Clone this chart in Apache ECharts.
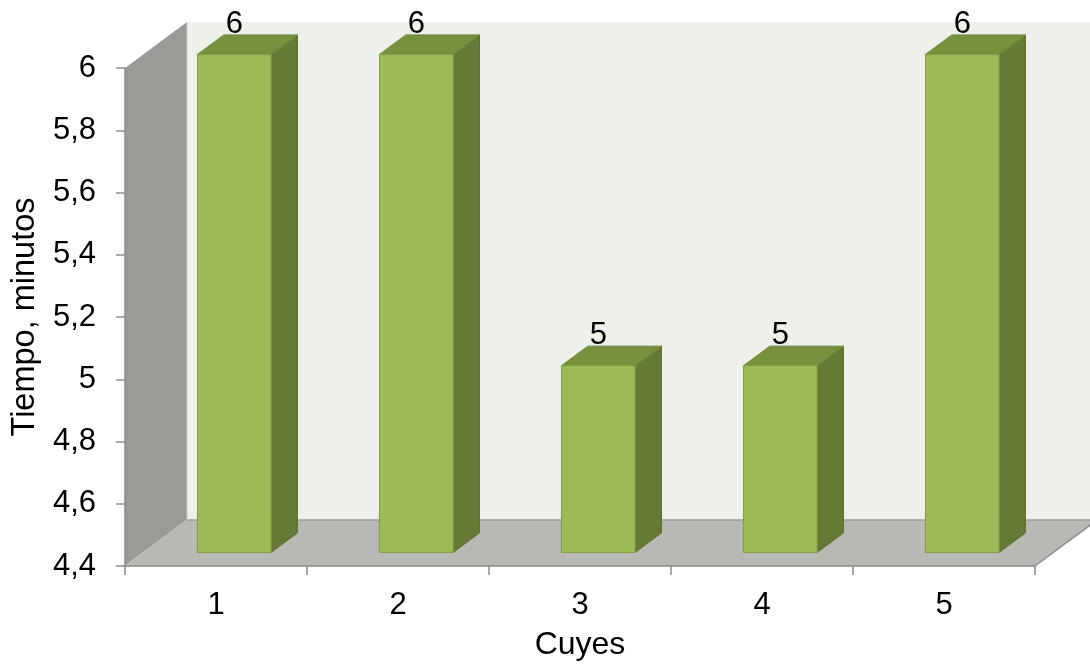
<!DOCTYPE html>
<html>
<head>
<meta charset="utf-8">
<script src="https://cdn.jsdelivr.net/npm/echarts@6/dist/echarts.min.js"></script>
<style>
  html, body { margin: 0; padding: 0; background: #ffffff; }
  #chart { width: 1090px; height: 669px; }
</style>
</head>
<body>
<div id="chart"></div>
<script>
// Chart data
const categories = ['1', '2', '3', '4', '5'];
const tiempo = [6, 6, 5, 5, 6];
const yMin = 4.4;
const yMax = 6;
const yStep = 0.2;

// Pseudo-3D depth of the plot box (pixels) and the bar's slab inside it
const DEPTH_X = 62;
const DEPTH_Y = -46;
const BAR_FRONT = 0.295;
const BAR_BACK = 0.72;
const BAR_WIDTH_RATIO = 0.405;

const FONT = '"Liberation Sans", Arial, sans-serif';

const chart = echarts.init(document.getElementById('chart'), null, { renderer: 'canvas' });

function fmt(v) {
  return String(+(+v).toFixed(1)).replace('.', ',');
}

// Walls and floor of the 3D box
function renderWalls(params, api) {
  const cs = params.coordSys;
  const x0 = cs.x, x1 = cs.x + cs.width;
  const yT = cs.y, yB = cs.y + cs.height;
  const dx = DEPTH_X, dy = DEPTH_Y;
  return {
    type: 'group',
    children: [
      { // back wall
        type: 'polygon',
        shape: { points: [[x0 + dx, yT + dy], [x1 + dx, yT + dy], [x1 + dx, yB + dy], [x0 + dx, yB + dy]] },
        style: { fill: '#eef1ea' }
      },
      { // left side wall
        type: 'polygon',
        shape: { points: [[x0, yT], [x0 + dx, yT + dy], [x0 + dx, yB + dy], [x0, yB]] },
        style: { fill: '#999b96' }
      },
      { // floor
        type: 'polygon',
        shape: { points: [[x0, yB], [x1, yB], [x1 + dx, yB + dy], [x0 + dx, yB + dy]] },
        style: { fill: '#b7b9b3' }
      },
      { // back edge of floor
        type: 'line',
        shape: { x1: x0 + dx, y1: yB + dy, x2: x1 + dx, y2: yB + dy },
        style: { stroke: '#9a9a9a', lineWidth: 1.5 }
      },
      { // right edge of floor
        type: 'line',
        shape: { x1: x1, y1: yB, x2: x1 + dx, y2: yB + dy },
        style: { stroke: '#8c8c8c', lineWidth: 1.5 }
      },
      { // corner between side wall and back wall
        type: 'line',
        shape: { x1: x0 + dx, y1: yT + dy, x2: x0 + dx, y2: yB + dy },
        style: { stroke: '#c9cbc6', lineWidth: 1 }
      },
      { // left floor edge
        type: 'line',
        shape: { x1: x0, y1: yB, x2: x0 + dx, y2: yB + dy },
        style: { stroke: '#c3c5bf', lineWidth: 1 }
      }
    ]
  };
}

// 3D bar: front face, right side, top face and value label
function renderBar(params, api) {
  const idx = api.value(0);
  const val = api.value(1);
  const top = api.coord([idx, val]);
  const base = api.coord([idx, yMin]);
  const catW = api.size([1, 0])[0];
  const w = catW * BAR_WIDTH_RATIO;
  const ox1 = BAR_FRONT * DEPTH_X, oy1 = BAR_FRONT * DEPTH_Y;
  const ox2 = BAR_BACK * DEPTH_X, oy2 = BAR_BACK * DEPTH_Y;
  const xL = top[0] - w / 2, xR = top[0] + w / 2;
  const yT = top[1], yB = base[1];
  const edge = { stroke: '#7f9d44', lineWidth: 1, lineJoin: 'round' };
  return {
    type: 'group',
    children: [
      {
        type: 'polygon',
        shape: { points: [[xR + ox1, yT + oy1], [xR + ox2, yT + oy2], [xR + ox2, yB + oy2], [xR + ox1, yB + oy1]] },
        style: Object.assign({ fill: '#657a36' }, edge, { stroke: '#5e7232' })
      },
      {
        type: 'polygon',
        shape: { points: [[xL + ox1, yT + oy1], [xL + ox2, yT + oy2], [xR + ox2, yT + oy2], [xR + ox1, yT + oy1]] },
        style: Object.assign({ fill: '#77913f' }, edge, { stroke: '#6f8a3b' })
      },
      {
        type: 'rect',
        shape: { x: xL + ox1, y: yT + oy1, width: w, height: yB - yT },
        style: Object.assign({ fill: '#9bbb59' }, edge)
      },
      {
        type: 'text',
        x: top[0] + ox1,
        y: yT + oy1 - 30,
        style: {
          text: fmt(val),
          fill: '#000000',
          font: '31px ' + FONT,
          align: 'center',
          verticalAlign: 'middle'
        }
      }
    ]
  };
}

const option = {
  animation: false,
  backgroundColor: '#ffffff',
  grid: { left: 125, right: 55, top: 68, bottom: 103, containLabel: false },
  xAxis: {
    type: 'category',
    data: categories,
    z: 5,
    name: 'Cuyes',
    nameLocation: 'middle',
    nameGap: 63,
    nameTextStyle: { fontFamily: FONT, fontSize: 32, color: '#000000' },
    axisLine: { show: true, lineStyle: { color: '#8c8c8c', width: 1.5 } },
    axisTick: { show: true, length: 9, lineStyle: { color: '#8c8c8c', width: 1.5 } },
    axisLabel: { fontFamily: FONT, fontSize: 31, color: '#000000', margin: 24 },
    splitLine: { show: false }
  },
  yAxis: {
    type: 'value',
    min: yMin,
    max: yMax,
    interval: yStep,
    z: 5,
    name: 'Tiempo, minutos',
    nameLocation: 'middle',
    nameGap: 81,
    nameTextStyle: { fontFamily: FONT, fontSize: 32.5, color: '#000000' },
    axisLine: { show: true, lineStyle: { color: '#8c8c8c', width: 1.5 } },
    axisTick: { show: true, length: 9, lineStyle: { color: '#8c8c8c', width: 1.5 } },
    axisLabel: { fontFamily: FONT, fontSize: 31, color: '#000000', margin: 29, formatter: fmt },
    splitLine: { show: false }
  },
  series: [
    {
      type: 'custom',
      z: 1,
      silent: true,
      clip: false,
      renderItem: renderWalls,
      data: [[0, yMin]]
    },
    {
      type: 'custom',
      z: 3,
      clip: false,
      renderItem: renderBar,
      encode: { x: 0, y: 1 },
      data: tiempo.map((v, i) => [i, v])
    }
  ]
};

chart.setOption(option);
</script>
</body>
</html>
